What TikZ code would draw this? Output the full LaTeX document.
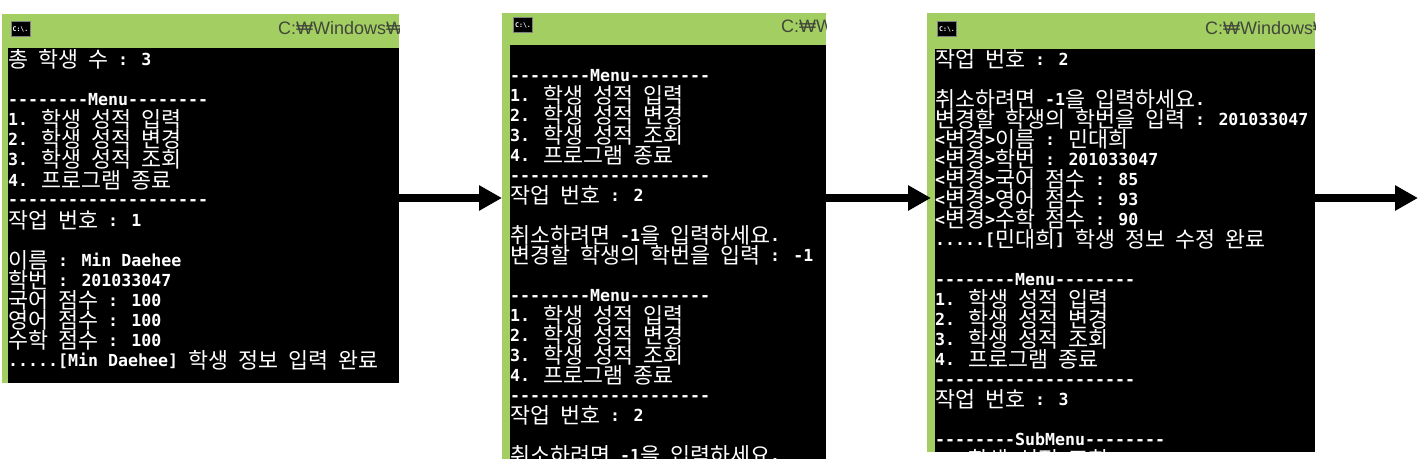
\documentclass[tikz,border=0pt]{standalone}
\usepackage{fontspec}
\newfontfamily\confont{DejaVu Sans Mono}
\newfontfamily\krfont{Noto Sans CJK KR}
\newfontfamily\titlefont{Liberation Sans}
\usetikzlibrary{arrows.meta}
\definecolor{wingreen}{HTML}{A3CF62}
\definecolor{wintitle}{HTML}{41463A}
\newcommand{\kr}[1]{\raisebox{-2pt}{\fontsize{21.74}{20}\selectfont\krfont\mdseries #1}}
\tikzset{
  winframe/.style={fill=wingreen, inner sep=0pt, anchor=north west},
  winbody/.style={fill=black, inner sep=0pt, anchor=north west},
  conline/.style={text=white, inner sep=0pt, anchor=base west, font=\confont\bfseries\fontsize{16.6}{20}\selectfont},
  wintext/.style={text=wintitle, inner sep=0pt, anchor=base west, font=\titlefont\fontsize{18}{20}\selectfont},
  winicon/.style={fill=black, draw=gray, line width=1pt, inner sep=0pt, minimum width=19pt, minimum height=15pt, text=white, font=\confont\bfseries\fontsize{6.5}{6.5}\selectfont},
  flow/.style={line width=8pt, -{Triangle[length=23pt,width=24pt]}}
}
\begin{document}
\begin{tikzpicture}[x=1pt,y=-1pt]
\useasboundingbox (0,0) rectangle (1421,473);
% first window
\node[winframe, minimum width=397pt, minimum height=369pt] (win1) at (2,14) {};
\node[winbody, minimum width=391pt, minimum height=335pt] (body1) at (8,48) {};
\node[winicon] (icon1) at (20.5,29) {C:\textbackslash.};
\begin{scope}
\clip (win1.south west) rectangle (win1.north east);
\node[wintext] (title1) at (278,35) {C:₩Windows₩};
\end{scope}
\begin{scope}
\clip (body1.south west) rectangle (body1.north east);
\foreach \i/\txt in {
    0/{\kr{총} \kr{학생} \kr{수} : 3},
    2/{--------Menu--------},
    3/{1. \kr{학생} \kr{성적} \kr{입력}},
    4/{2. \kr{학생} \kr{성적} \kr{변경}},
    5/{3. \kr{학생} \kr{성적} \kr{조회}},
    6/{4. \kr{프로그램} \kr{종료}},
    7/{--------------------},
    8/{\kr{작업} \kr{번호} : 1},
    10/{\kr{이름} : Min Daehee},
    11/{\kr{학번} : 201033047},
    12/{\kr{국어} \kr{점수} : 100},
    13/{\kr{영어} \kr{점수} : 100},
    14/{\kr{수학} \kr{점수} : 100},
    15/{.....[Min Daehee] \kr{학생} \kr{정보} \kr{입력} \kr{완료}}} {
  \node[conline] (a\i) at (8,{66+20*\i}) {\txt};
}
\end{scope}
% second window
\node[winframe, minimum width=324pt, minimum height=446pt] (win2) at (502,13) {};
\node[winbody, minimum width=316pt, minimum height=414pt] (body2) at (510,45) {};
\node[winicon] (icon2) at (523,25) {C:\textbackslash.};
\begin{scope}
\clip (win2.south west) rectangle (win2.north east);
\node[wintext] (title2) at (781,33) {C:₩Windows₩};
\end{scope}
\begin{scope}
\clip (body2.south west) rectangle (body2.north east);
\foreach \i/\txt in {
    0/{--------Menu--------},
    1/{1. \kr{학생} \kr{성적} \kr{입력}},
    2/{2. \kr{학생} \kr{성적} \kr{변경}},
    3/{3. \kr{학생} \kr{성적} \kr{조회}},
    4/{4. \kr{프로그램} \kr{종료}},
    5/{--------------------},
    6/{\kr{작업} \kr{번호} : 2},
    8/{\kr{취소하려면} -1\kr{을} \kr{입력하세요}.},
    9/{\kr{변경할} \kr{학생의} \kr{학번을} \kr{입력} : -1},
    11/{--------Menu--------},
    12/{1. \kr{학생} \kr{성적} \kr{입력}},
    13/{2. \kr{학생} \kr{성적} \kr{변경}},
    14/{3. \kr{학생} \kr{성적} \kr{조회}},
    15/{4. \kr{프로그램} \kr{종료}},
    16/{--------------------},
    17/{\kr{작업} \kr{번호} : 2},
    19/{\kr{취소하려면} -1\kr{을} \kr{입력하세요}.}} {
  \node[conline] (b\i) at (510,{82+19.95*\i}) {\txt};
}
\end{scope}
% third window
\node[winframe, minimum width=388pt, minimum height=439pt] (win3) at (927,13) {};
\node[winbody, minimum width=380pt, minimum height=403pt] (body3) at (935,49) {};
\node[winicon] (icon3) at (947,29) {C:\textbackslash.};
\begin{scope}
\clip (win3.south west) rectangle (win3.north east);
\node[wintext] (title3) at (1205,35) {C:₩Windows₩};
\end{scope}
\begin{scope}
\clip (body3.south west) rectangle (body3.north east);
\foreach \i/\txt in {
    0/{\kr{작업} \kr{번호} : 2},
    2/{\kr{취소하려면} -1\kr{을} \kr{입력하세요}.},
    3/{\kr{변경할} \kr{학생의} \kr{학번을} \kr{입력} : 201033047},
    4/{<\kr{변경}>\kr{이름} : \kr{민대희}},
    5/{<\kr{변경}>\kr{학번} : 201033047},
    6/{<\kr{변경}>\kr{국어} \kr{점수} : 85},
    7/{<\kr{변경}>\kr{영어} \kr{점수} : 93},
    8/{<\kr{변경}>\kr{수학} \kr{점수} : 90},
    9/{.....[\kr{민대희}] \kr{학생} \kr{정보} \kr{수정} \kr{완료}},
    11/{--------Menu--------},
    12/{1. \kr{학생} \kr{성적} \kr{입력}},
    13/{2. \kr{학생} \kr{성적} \kr{변경}},
    14/{3. \kr{학생} \kr{성적} \kr{조회}},
    15/{4. \kr{프로그램} \kr{종료}},
    16/{--------------------},
    17/{\kr{작업} \kr{번호} : 3},
    19/{--------SubMenu--------},
    20/{1. \kr{학생} \kr{성적} \kr{조회}}} {
  \node[conline] (c\i) at (935,{66+19.95*\i}) {\txt};
}
\end{scope}
% arrows
\coordinate (row) at (0,198);
\coordinate (last) at (1418,198);
\draw[flow] (win1.east |- row) -- (win2.west |- row);
\draw[flow] (win2.east |- row) -- ([xshift=4pt]win3.west |- row);
\draw[flow] (win3.east |- row) -- (last);
\end{tikzpicture}
\end{document}
